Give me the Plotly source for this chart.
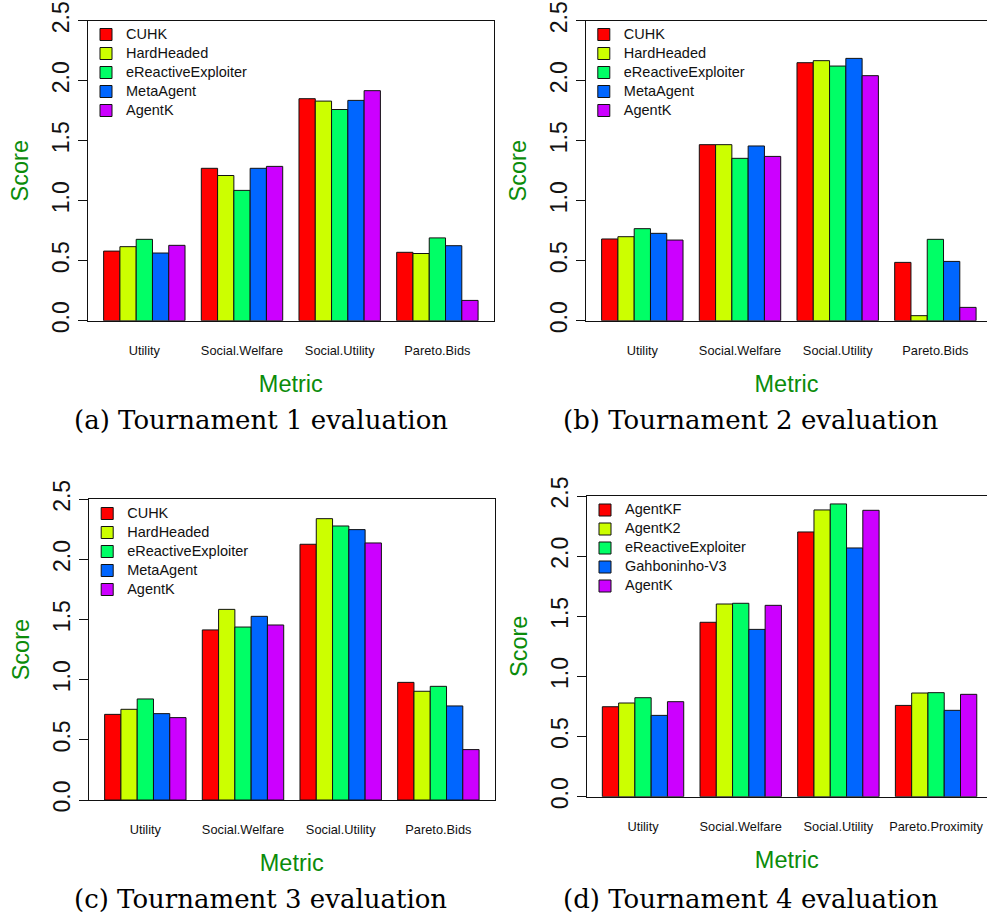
import plotly.graph_objects as go

W, H = 987, 923

# ---------------- data ----------------
agents_t123 = ["CUHK", "HardHeaded", "eReactiveExploiter", "MetaAgent", "AgentK"]
agents_t4 = ["AgentKF", "AgentK2", "eReactiveExploiter", "Gahboninho-V3", "AgentK"]
metrics_t123 = ["Utility", "Social.Welfare", "Social.Utility", "Pareto.Bids"]
metrics_t4 = ["Utility", "Social.Welfare", "Social.Utility", "Pareto.Proximity"]
colors = ["#FF0000", "#CCFF00", "#00FF66", "#0066FF", "#CC00FF"]

# one list per agent, values over the four metrics
t1_values = [
    [0.58, 1.27, 1.85, 0.57],
    [0.617, 1.21, 1.83, 0.56],
    [0.678, 1.086, 1.76, 0.69],
    [0.564, 1.27, 1.836, 0.625],
    [0.628, 1.286, 1.917, 0.169],
]
t2_values = [
    [0.681, 1.467, 2.15, 0.486],
    [0.70, 1.467, 2.167, 0.042],
    [0.767, 1.353, 2.122, 0.678],
    [0.728, 1.456, 2.186, 0.494],
    [0.672, 1.369, 2.042, 0.111],
]
t3_values = [
    [0.712, 1.414, 2.126, 0.978],
    [0.754, 1.585, 2.339, 0.904],
    [0.84, 1.438, 2.278, 0.945],
    [0.718, 1.527, 2.248, 0.782],
    [0.685, 1.455, 2.137, 0.419],
]
t4_values = [
    [0.748, 1.45, 2.201, 0.759],
    [0.779, 1.602, 2.384, 0.862],
    [0.823, 1.608, 2.434, 0.865],
    [0.676, 1.391, 2.068, 0.718],
    [0.79, 1.591, 2.381, 0.851],
]
y_ticks = [0.0, 0.5, 1.0, 1.5, 2.0, 2.5]
y_ticktext = ["0.0", "0.5", "1.0", "1.5", "2.0", "2.5"]
captions = ["(a) Tournament 1 evaluation", "(b) Tournament 2 evaluation",
            "(c) Tournament 3 evaluation", "(d) Tournament 4 evaluation"]

# ---------------- layout geometry (pixels) ----------------
SANS = "Liberation Sans, Arial, Helvetica, sans-serif"
SERIF = "DejaVu Serif, serif"
GREEN = "#0b8c0b"
UNIT = (493.7 - 88.0) / 4.1533     # px per category
R0 = -0.5767

panels = [
    dict(left=88.0, right=493.7, top=20.7, bottom=320.7, mirror=True,
         agents=agents_t123, metrics=metrics_t123, values=t1_values,
         leg=(86.0, 20.0), cap=(260.5, 420.0)),
    dict(left=586.0, right=987.0, top=20.7, bottom=320.7, mirror=False,
         agents=agents_t123, metrics=metrics_t123, values=t2_values,
         leg=(583.8, 20.0), cap=(750.0, 420.0)),
    dict(left=89.0, right=494.5, top=499.3, bottom=800.0, mirror=True,
         agents=agents_t123, metrics=metrics_t123, values=t3_values,
         leg=(87.2, 499.0), cap=(260.5, 899.0)),
    dict(left=586.7, right=987.0, top=496.0, bottom=796.7, mirror=False,
         agents=agents_t4, metrics=metrics_t4, values=t4_values,
         leg=(585.0, 495.5), cap=(750.0, 899.0)),
]

fig = go.Figure()
layout = {}
annotations = []

for i, p in enumerate(panels):
    n = i + 1
    sfx = "" if n == 1 else str(n)
    xa, ya = "x" + sfx, "y" + sfx
    legname = "legend" + sfx
    for a, (agent, vals) in enumerate(zip(p["agents"], p["values"])):
        fig.add_trace(go.Bar(
            x=p["metrics"], y=vals, xaxis=xa, yaxis=ya,
            name='<span style="font-size:14.5px">%s</span>' % agent,
            marker=dict(color=colors[a], line=dict(color="#111111", width=1)),
            legend=legname, showlegend=True,
        ))
    width_px = p["right"] - p["left"]
    layout["xaxis" + sfx] = dict(
        domain=[p["left"] / W, p["right"] / W], anchor=ya, type="category",
        range=[R0, R0 + width_px / UNIT], automargin=False,
        showline=True, linecolor="#111111", linewidth=1, mirror=True,
        ticks="", showgrid=False, zeroline=False,
        tickfont=dict(family=SANS, size=12.8, color="#111111"),
        ticklabelstandoff=18,
        title=dict(text="Metric", font=dict(family=SANS, size=23.5, color=GREEN),
                   standoff=18),
        fixedrange=True,
    )
    layout["yaxis" + sfx] = dict(
        domain=[1 - p["bottom"] / H, 1 - p["top"] / H], anchor=xa,
        range=[0, 2.5], tickvals=y_ticks, ticktext=y_ticktext, tickangle=-90,
        ticks="outside", ticklen=9, tickwidth=1, tickcolor="#111111",
        showline=True, linecolor="#111111", linewidth=1, mirror=p["mirror"],
        showgrid=False, zeroline=False, automargin=False,
        tickfont=dict(family=SANS, size=23, color="#111111"),
        ticklabelstandoff=0,
        title=dict(text="Score", font=dict(family=SANS, size=23.5, color=GREEN),
                   standoff=12),
        fixedrange=True,
    )
    layout[legname] = dict(
        x=p["leg"][0] / W, y=1 - p["leg"][1] / H, xanchor="left", yanchor="top",
        xref="paper", yref="paper",
        font=dict(family=SANS, size=11, color="#111111"),
        bgcolor="rgba(0,0,0,0)", borderwidth=0, traceorder="normal",
    )
    annotations.append(dict(
        text=captions[i], x=p["cap"][0] / W, y=1 - p["cap"][1] / H,
        xref="paper", yref="paper", xanchor="center", yanchor="middle",
        showarrow=False, font=dict(family=SERIF, size=26, color="#000000"),
    ))

fig.update_layout(
    width=W, height=H,
    margin=dict(l=0, r=0, t=0, b=0, pad=0, autoexpand=False),
    paper_bgcolor="white", plot_bgcolor="white",
    barmode="group", bargap=1 / 6, bargroupgap=0,
    annotations=annotations, showlegend=True,
    **layout,
)

fig.write_html("out.html")
